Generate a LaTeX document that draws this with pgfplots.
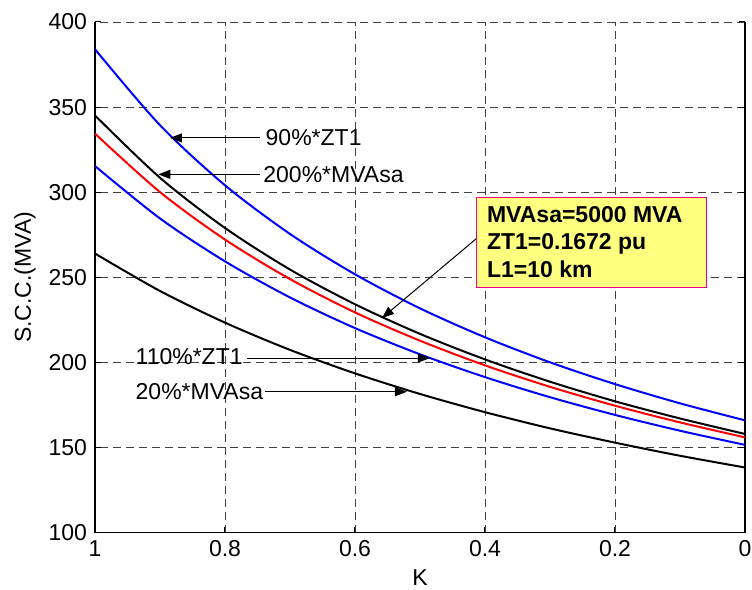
\documentclass[border=0pt]{standalone}
\usepackage{fontspec}
\setmainfont{Liberation Sans}
\usepackage{pgfplots}
\pgfplotsset{compat=1.18}
\usetikzlibrary{arrows.meta}
\definecolor{boxyellow}{RGB}{255,255,128}
\begin{document}
\fontsize{11.5}{13.8}\selectfont
\begin{tikzpicture}
\begin{axis}[
  scale only axis,
  width=325pt, height=255.35pt,
  xmin=0, xmax=1, x dir=reverse,
  ymin=100, ymax=400,
  xtick={0,0.2,0.4,0.6,0.8,1},
  xticklabels={0,0.2,0.4,0.6,0.8,1},
  ytick={100,150,200,250,300,350,400},
  axis x line*=bottom,
  axis y line*=box,
  axis line style={line width=0.75pt},
  tick align=inside,
  major tick length=3pt,
  tick style={black, line width=0.5pt},
  grid=major,
  major grid style={black!75, line width=0.45pt, dash pattern=on 4pt off 2.5pt},
  /pgf/number format/assume math mode=true,
  ticklabel style={font=\fontsize{11.5}{13.8}\selectfont},
  xlabel={K},
  ylabel={S.C.C.(MVA)},
  label style={font=\fontsize{11.5}{13.8}\selectfont},
  xlabel style={at={(axis description cs:0.5,-0.0887)}, anchor=center},
  ylabel style={at={(axis description cs:-0.1077,0.5)}, anchor=center},
  clip=false,
]
% 90%*ZT1
\addplot[blue, line width=1pt, smooth] coordinates {
(0,166.0) (0.1,176.0) (0.2,187.3) (0.3,200.1) (0.4,214.8) (0.5,231.8)
(0.6,251.8) (0.7,275.5) (0.8,304.1) (0.9,339.4) (1.0,384.0)};
% 200%*MVAsa
\addplot[black, line width=1pt, smooth] coordinates {
(0,158.0) (0.1,167.1) (0.2,177.2) (0.3,188.7) (0.4,201.8) (0.5,216.8)
(0.6,234.2) (0.7,254.6) (0.8,279.0) (0.9,308.5) (1.0,345.1)};
% base
\addplot[red, line width=1pt, smooth] coordinates {
(0,156.0) (0.1,164.8) (0.2,174.6) (0.3,185.7) (0.4,198.3) (0.5,212.8)
(0.6,229.4) (0.7,249.0) (0.8,272.2) (0.9,300.1) (1.0,334.4)};
% 110%*ZT1
\addplot[blue, line width=1pt, smooth] coordinates {
(0,151.6) (0.1,159.9) (0.2,169.2) (0.3,179.6) (0.4,191.4) (0.5,204.8)
(0.6,220.2) (0.7,238.2) (0.8,259.4) (0.9,284.6) (1.0,315.4)};
% 20%*MVAsa
\addplot[black, line width=1pt, smooth] coordinates {
(0,138.3) (0.1,145.2) (0.2,152.9) (0.3,161.3) (0.4,170.8) (0.5,181.5)
(0.6,193.6) (0.7,207.4) (0.8,223.4) (0.9,242.0) (1.0,264.0)};
% annotations
\draw[line width=0.5pt, -{Triangle[length=6pt,width=4.5pt]}] (axis cs:0.746,331.9) -- (axis cs:0.8846,331.9);
\node[anchor=west, inner sep=0pt] at (axis cs:0.738,331.9) {90\%*ZT1};
\draw[line width=0.5pt, -{Triangle[length=6pt,width=4.5pt]}] (axis cs:0.746,310.5) -- (axis cs:0.9026,310.5);
\node[anchor=west, inner sep=0pt] at (axis cs:0.7415,310.5) {200\%*MVAsa};
\draw[line width=0.5pt, -{Triangle[length=6pt,width=4.5pt]}] (axis cs:0.766,202.6) -- (axis cs:0.4846,202.6);
\node[anchor=west, inner sep=0pt] at (axis cs:0.938,203.5) {110\%*ZT1};
\draw[line width=0.5pt, -{Triangle[length=6pt,width=4.5pt]}] (axis cs:0.738,182.8) -- (axis cs:0.52,182.8);
\node[anchor=west, inner sep=0pt] at (axis cs:0.938,182.8) {20\%*MVAsa};
\draw[line width=0.5pt, -{Triangle[length=6pt,width=4.5pt]}] (axis cs:0.4128,272.9) -- (axis cs:0.5585,226.1);
\draw[magenta, line width=0.5pt, fill=boxyellow] (axis cs:0.4128,296.8) rectangle (axis cs:0.0589,243.9);
\node[anchor=base west, inner sep=0pt, font=\bfseries] at (axis cs:0.3974,282.3) {MVAsa=5000 MVA};
\node[anchor=base west, inner sep=0pt, font=\bfseries] at (axis cs:0.3974,266.1) {ZT1=0.1672 pu};
\node[anchor=base west, inner sep=0pt, font=\bfseries] at (axis cs:0.3974,249.8) {L1=10 km};
\end{axis}
\pgfresetboundingbox
\path[use as bounding box] (-47.5pt,-28.65pt) rectangle (328.5pt,266.35pt);
\end{tikzpicture}
\end{document}
